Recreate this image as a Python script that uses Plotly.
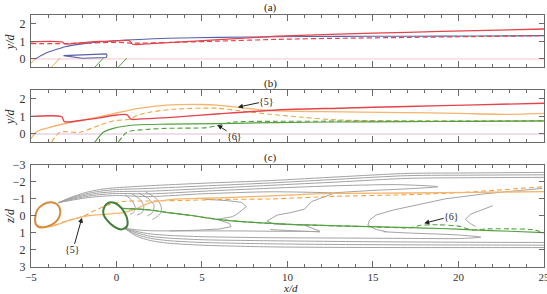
import plotly.graph_objects as go

# ---------------- data: panel (a) ----------------
a_red_x = [-5, -3.2, -3.0, -2.0, -1.0, 0.0, 0.75, 0.95, 2.0, 3.0, 6.0, 9.4, 13, 17, 21, 25]
a_red_y = [0.98, 0.97, 0.86, 0.93, 1.0, 1.03, 1.05, 0.84, 0.88, 0.93, 1.1, 1.3, 1.42, 1.52, 1.62, 1.71]
a_redd_x = [-5, -3.0, -2.0, 0.0, 1.0, 3.0, 6.0, 9.4, 13, 17, 21, 25]
a_redd_y = [0.88, 0.88, 0.9, 0.95, 0.9, 0.94, 1.02, 1.12, 1.18, 1.23, 1.28, 1.33]
a_blue_x = [-4.75, -4.2, -3.5, -3.0, -2.0, -1.0, 0.0, 1.0, 3.0, 6.0, 9.4, 13, 17, 21, 25]
a_blue_y = [0.0, 0.3, 0.55, 0.7, 0.86, 0.97, 1.05, 1.1, 1.18, 1.23, 1.27, 1.29, 1.3, 1.31, 1.33]
a_loop_x = [-3.1, -2.0, -0.6, -0.55, -0.6, -2.0]
a_loop_y = [0.19, 0.24, 0.29, 0.2, 0.08, 0.04]
a_or1_x = [-5.06, -4.75]
a_or1_y = [-0.3, 0.0]
a_or2_x = [-3.8, -3.3]
a_or2_y = [-0.46, 0.05]
a_gr1_x = [-1.26, -0.77]
a_gr1_y = [-0.46, 0.05]
a_gr2_x = [0.11, 0.6]
a_gr2_y = [-0.46, 0.05]

# ---------------- data: panel (b) ----------------
b_red_x = [-5, -3.2, -3.05, -2.0, -1.0, 0.0, 0.6, 0.85, 1.5, 3.0, 6.0, 9.4, 13, 17, 21, 25]
b_red_y = [1.0, 0.98, 0.7, 0.78, 0.92, 1.08, 1.1, 0.84, 0.86, 0.93, 1.15, 1.37, 1.47, 1.57, 1.66, 1.75]
b_or_x = [-5.06, -4.67, -4.0, -2.9, -1.9, -0.1, 1.4, 2.9, 4.9, 5.9, 7.2, 9.0, 12.0, 16.8, 20.0, 23.0, 25.0]
b_or_y = [-0.34, 0.13, 0.35, 0.61, 0.8, 1.18, 1.47, 1.64, 1.68, 1.64, 1.5, 1.33, 1.27, 1.22, 1.17, 1.12, 1.17]
b_ord_x = [-3.8, -3.3, -2.13, -0.96, -0.09, 0.79, 1.18, 1.96, 3.33, 5.86, 7.23, 9.0, 10.9, 12.9, 16.8, 21.0, 25.0]
b_ord_y = [-0.46, 0.1, 0.1, 0.51, 0.76, 0.84, 1.05, 1.24, 1.41, 1.47, 1.32, 1.12, 0.95, 0.8, 0.74, 0.74, 0.74]
b_gr_x = [-1.26, -0.77, -0.18, 0.99, 2.94, 5.86, 9.37, 13.0, 17.0, 21.0, 25.0]
b_gr_y = [-0.46, 0.1, 0.32, 0.51, 0.56, 0.59, 0.65, 0.68, 0.7, 0.72, 0.74]
b_grd_x = [0.11, 0.6, 1.38, 2.94, 5.28, 6.06, 6.84, 9.37, 13.0, 17.0, 21.0, 25.0]
b_grd_y = [-0.46, 0.1, 0.23, 0.32, 0.36, 0.51, 0.68, 0.72, 0.73, 0.73, 0.74, 0.74]

# ---------------- data: panel (c) ----------------
c_oell_x = [-4.76, -4.63, -4.28, -3.85, -3.5, -3.3, -3.34, -3.59, -4.08, -4.51, -4.72, -4.76]
c_oell_z = [0.14, -0.35, -0.68, -0.8, -0.7, -0.39, 0.04, 0.39, 0.63, 0.67, 0.47, 0.14]
c_gell_x = [-0.77, -0.61, -0.28, 0.11, 0.44, 0.64, 0.6, 0.3, -0.14, -0.53, -0.75, -0.77]
c_gell_z = [-0.35, -0.68, -0.8, -0.64, -0.25, 0.24, 0.63, 0.79, 0.63, 0.28, -0.06, -0.35]

c_or_x = [-4.6, -4.1, -3.5, -2.9, -2.0, -1.2, -0.4, 0.4, 1.2, 2.0, 3.0, 4.3, 6.0, 9.0, 12.7, 17.0, 21.0, 25.0]
c_or_z = [0.62, 0.66, 0.53, 0.3, 0.05, -0.06, -0.12, -0.2, -0.45, -0.78, -0.95, -1.02, -1.06, -1.18, -1.33, -1.35, -1.39, -1.43]
c_ord_x = [-4.6, -4.1, -3.5, -2.9, -2.0, -1.3, -0.5, 0.4, 2.0, 4.3, 6.0, 9.0, 12.7, 17.0, 20.2, 25.0]
c_ord_z = [0.6, 0.64, 0.5, 0.28, 0.04, -0.3, -0.65, -0.85, -0.88, -0.92, -0.97, -1.0, -1.15, -1.25, -1.38, -1.72]
c_gr_x = [0.3, 1.0, 2.0, 3.0, 4.3, 5.9, 8.0, 9.6, 11.1, 14.8, 17.2, 19.0, 20.8, 23.0, 25.0]
c_gr_z = [-0.45, -0.42, -0.35, -0.2, -0.04, 0.2, 0.38, 0.47, 0.53, 0.63, 0.69, 0.74, 0.82, 0.9, 0.98]
c_grd_x = [0.3, 1.0, 2.0, 3.0, 4.3, 5.9, 8.0, 9.6, 11.1, 14.8, 17.2, 17.8, 18.8, 20.0, 20.8, 21.7, 23.0, 24.3, 25.0]
c_grd_z = [-0.45, -0.42, -0.35, -0.2, -0.04, 0.2, 0.38, 0.47, 0.53, 0.63, 0.69, 0.55, 0.52, 0.6, 0.82, 0.76, 0.76, 0.8, 0.98]

up_x = [-3.4, -2.6, -1.8, -1.0, 0.0, 2.0, 5.0, 9.0, 13.0, 17.0, 21.0, 25.0]
up1_z = [-0.78, -1.12, -1.38, -1.55, -1.66, -1.78, -1.92, -2.08, -2.3, -2.5, -2.53, -2.56]
up2_z = [-0.78, -1.08, -1.3, -1.45, -1.55, -1.62, -1.76, -1.94, -2.16, -2.37, -2.4, -2.42]
up3_z = [-0.78, -1.03, -1.22, -1.35, -1.43, -1.46, -1.6, -1.8, -2.0, -2.21, -2.25, -2.27]
up4_x = [-3.4, -2.6, -1.8, -1.0, 0.0, 2.0, 5.0, 9.0, 13.0, 16.5, 18.8, 17.5, 15.0, 12.7]
up4_z = [-0.78, -0.98, -1.14, -1.25, -1.32, -1.3, -1.45, -1.63, -1.78, -1.84, -1.72, -1.62, -1.5, -1.36]
up5_x = [-3.4, -2.6, -1.8, -1.0, 0.0, 2.0, 5.0, 9.0, 12.7]
up5_z = [-0.78, -0.93, -1.06, -1.15, -1.2, -1.14, -1.3, -1.42, -1.36]

lo_x = [0.45, 1.2, 2.0, 3.0, 5.0, 9.0, 13.0, 17.0, 21.0, 25.0]
lo1_z = [0.72, 1.2, 1.45, 1.6, 1.72, 1.82, 1.85, 1.86, 1.86, 1.86]
lo2_z = [0.72, 1.1, 1.32, 1.45, 1.56, 1.64, 1.68, 1.7, 1.71, 1.72]
lo3_z = [0.72, 1.0, 1.2, 1.3, 1.4, 1.46, 1.5, 1.53, 1.55, 1.56]
lo4_x = [0.45, 1.2, 2.0, 3.0, 5.0, 9.0, 13.0, 17.0, 20.0, 21.3, 20.0, 17.0, 15.6]
lo4_z = [0.72, 0.92, 1.06, 1.14, 1.22, 1.28, 1.3, 1.32, 1.33, 1.25, 1.12, 1.0, 0.93]
lo5_x = [0.45, 1.2, 2.0, 3.0, 5.0, 7.0, 9.0, 11.0, 11.9, 10.5, 9.0]
lo5_z = [0.72, 0.82, 0.87, 0.88, 0.88, 0.88, 0.9, 0.91, 0.93, 0.88, 0.8]

j1_x = [5.2, 6.5, 7.3, 7.6, 7.1, 6.8, 6.2, 5.9, 6.6, 6.7, 6.0, 4.7, 3.1]
j1_z = [-0.98, -0.9, -0.8, -0.55, -0.15, 0.04, 0.15, 0.2, 0.44, 0.63, 0.77, 0.84, 0.88]
j2_x = [12.7, 12.0, 11.4, 11.0, 10.2, 9.4, 8.8, 9.2, 11.0, 11.9]
j2_z = [-1.33, -1.05, -0.84, -0.4, -0.2, -0.05, 0.3, 0.47, 0.55, 0.9]
j3_x = [24.9, 21.5, 19.2, 16.9, 16.2, 15.2, 14.8, 14.7, 15.2, 15.8]
j3_z = [-1.62, -1.3, -1.0, -0.5, -0.35, -0.06, 0.24, 0.55, 0.8, 0.93]
j4_x = [22.0, 21.3, 20.7, 20.4, 20.7, 21.0]
j4_z = [-0.6, -0.35, -0.1, 0.2, 0.45, 0.62]
h1_x = [0.5, 0.9, 1.1, 1.0, 0.8]
h1_z = [-1.25, -0.9, -0.5, -0.2, -0.1]
h2_x = [0.9, 1.4, 1.6, 1.5, 1.2]
h2_z = [-1.3, -0.95, -0.55, -0.2, -0.05]
h3_x = [1.3, 1.9, 2.2, 2.1, 1.8]
h3_z = [-1.35, -1.0, -0.6, -0.2, 0.0]
h4_x = [1.7, 2.3, 2.6, 2.6, 2.3, 2.1]
h4_z = [-1.4, -1.05, -0.6, -0.2, 0.1, 0.2]

x_ticks = [-5, 0, 5, 10, 15, 20, 25]

RED = "#e4434b"
BLUE = "#5561a8"
ORA = "#f6b46c"
ORAD = "#f0a545"
GRN = "#55a040"
GREY = "#a3a3a3"

fig = go.Figure()


def add(x, y, color, width=1.1, dash="solid", ax="", shape="spline"):
    fig.add_trace(go.Scatter(x=x, y=y, mode="lines",
                             line=dict(color=color, width=width, dash=dash, shape=shape, smoothing=0.7),
                             xaxis="x" + ax, yaxis="y" + ax, showlegend=False, hoverinfo="skip"))


add([-5, 25], [0, 0], "#f4c6cc", 1, ax="", shape="linear")
add(a_or1_x, a_or1_y, ORAD, 1, ax="", shape="linear")
add(a_or2_x, a_or2_y, ORAD, 1, ax="", shape="linear")
add(a_gr1_x, a_gr1_y, GRN, 1, ax="", shape="linear")
add(a_gr2_x, a_gr2_y, GRN, 1, ax="", shape="linear")
add(a_blue_x, a_blue_y, BLUE, 1.1, ax="")
add(a_loop_x + a_loop_x[:1], a_loop_y + a_loop_y[:1], BLUE, 1.1, ax="", shape="linear")
add(a_redd_x, a_redd_y, RED, 1.2, dash="5px,3px", ax="")
add(a_red_x, a_red_y, RED, 1.3, ax="")

add([-5, 25], [0, 0], "#e9d3e2", 1.5, ax="2", shape="linear")
add(b_ord_x, b_ord_y, ORAD, 1.1, dash="5px,3px", ax="2")
add(b_or_x, b_or_y, ORA, 1.3, ax="2")
add(b_grd_x, b_grd_y, GRN, 1.1, dash="5px,3px", ax="2")
add(b_gr_x, b_gr_y, GRN, 1.2, ax="2")
add(b_red_x, b_red_y, RED, 1.4, ax="2")

for zs in (up1_z, up2_z, up3_z):
    add(up_x, zs, GREY, 1, ax="3")
add(up4_x, up4_z, GREY, 1, ax="3")
add(up5_x, up5_z, GREY, 1, ax="3")
for zs in (lo1_z, lo2_z, lo3_z):
    add(lo_x, zs, GREY, 1, ax="3")
add(lo4_x, lo4_z, GREY, 1, ax="3")
add(lo5_x, lo5_z, GREY, 1, ax="3")
for xx, zz in ((j1_x, j1_z), (j2_x, j2_z), (j3_x, j3_z), (j4_x, j4_z)):
    add(xx, zz, GREY, 1, ax="3", shape="linear")
for xx, zz in ((h1_x, h1_z), (h2_x, h2_z), (h3_x, h3_z), (h4_x, h4_z)):
    add(xx, zz, GREY, 1, ax="3")
add(c_ord_x, c_ord_z, ORAD, 1.1, dash="5px,3px", ax="3")
add(c_or_x, c_or_z, ORA, 1.3, ax="3")
add(c_grd_x, c_grd_z, GRN, 1.1, dash="5px,3px", ax="3")
add(c_gr_x, c_gr_z, GRN, 1.2, ax="3")
add(c_oell_x, c_oell_z, "#d58a3c", 2, ax="3")
add(c_gell_x, c_gell_z, "#3f7f35", 2, ax="3")

FONT = "Liberation Serif"
frame = "#6a6a6a"


def xaxis(domain_anchor, labels):
    return dict(range=[-5, 25.001], anchor=domain_anchor, showline=True, linecolor=frame, linewidth=1,
                mirror="ticks", ticks="inside", ticklen=6, tickcolor=frame, tickwidth=1, tickvals=x_ticks,
                showticklabels=labels, showgrid=False, zeroline=False, automargin=False,
                ticklabeloverflow="allow", ticklabelstandoff=0,
                minor=dict(ticks="inside", ticklen=3, dtick=1, tick0=0, tickcolor=frame, tickwidth=1,
                           showgrid=False),
                tickfont=dict(family=FONT, size=11, color="#333"))


def yaxis(dom, rng, vals, anchor):
    return dict(domain=dom, range=rng, anchor=anchor, showline=True, linecolor=frame, linewidth=1,
                mirror="ticks", ticks="inside", ticklen=5, tickcolor=frame, tickwidth=1, tickvals=vals,
                showgrid=False, zeroline=False, automargin=False, ticklabeloverflow="allow",
                ticklabelstandoff=2,
                tickfont=dict(family=FONT, size=12, color="#333"))


fig.update_layout(
    template="none",
    width=547, height=294, margin=dict(l=31, r=3, t=0, b=0, pad=0),
    paper_bgcolor="white", plot_bgcolor="white",
    xaxis=xaxis("y", False), xaxis2=xaxis("y2", False), xaxis3=xaxis("y3", True),
    yaxis=yaxis([0.772, 0.949], [-0.46, 2.51], [0, 1, 2], "x"),
    yaxis2=yaxis([0.517, 0.694], [-0.46, 2.51], [0, 1, 2], "x2"),
    yaxis3=yaxis([0.092, 0.439], [3, -3], [-3, -2, -1, 0, 1, 2, 3], "x3"),
)

anns = []
for txt, yp in (("(a)", 0.973), ("(b)", 0.716), ("(c)", 0.463)):
    anns.append(dict(text=txt, xref="paper", yref="paper", x=0.466, y=yp, yanchor="middle",
                     showarrow=False, font=dict(family=FONT, size=11, color="#222")))
for txt, yp in (("<i>y/d</i>", 0.86), ("<i>y/d</i>", 0.605), ("<i>z/d</i>", 0.265)):
    anns.append(dict(text=txt, xref="paper", yref="paper", x=-0.041, y=yp, showarrow=False,
                     xanchor="center", yanchor="middle",
                     textangle=-90, font=dict(family=FONT, size=12, color="#222")))
anns.append(dict(text="<i>x/d</i>", xref="paper", yref="paper", x=0.505, y=-0.008, yanchor="bottom",
                 showarrow=False, font=dict(family=FONT, size=11, color="#222")))


def arrow(txt, ax_, tip, tail):
    return dict(text=txt, x=tip[0], y=tip[1], ax=tail[0], ay=tail[1],
                xref="x" + ax_, yref="y" + ax_, axref="x" + ax_, ayref="y" + ax_,
                showarrow=True, arrowhead=2, arrowsize=1, arrowwidth=1, arrowcolor="#222",
                font=dict(family=FONT, size=10, color="#222"), borderpad=0)


anns.append(arrow("{5}", "2", (7.1, 1.53), (8.8, 1.88)))
anns.append(arrow("{6}", "2", (5.9, 0.51), (6.9, -0.12)))
anns.append(arrow("{5}", "3", (-2.02, 0.1), (-2.55, 2.0)))
anns.append(arrow("{6}", "3", (18.0, 0.43), (19.6, 0.02)))
fig.update_layout(annotations=anns)

fig.write_html("out.html")
